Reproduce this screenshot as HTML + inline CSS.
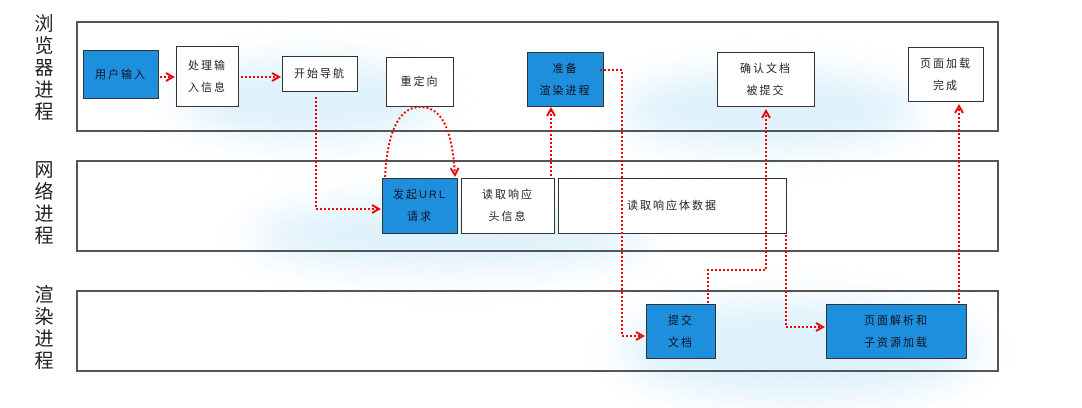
<!DOCTYPE html>
<html><head><meta charset="utf-8"><style>
html,body{margin:0;padding:0;background:#fff;}
body{width:1082px;height:408px;position:relative;overflow:hidden;font-family:"Liberation Sans","Noto Sans CJK SC",sans-serif;}
.bg{position:absolute;border-radius:50%;filter:blur(18px);background:rgba(160,215,245,0.35);}
.lane{position:absolute;border:2px solid #555;box-sizing:border-box;}
.lbl{position:absolute;font-size:19px;line-height:22px;width:22px;text-align:center;color:#222;}
.b{position:absolute;box-sizing:border-box;border:1.5px solid #333;background:#fff;font-size:11px;color:#222;display:flex;align-items:center;justify-content:center;text-align:center;line-height:22px;letter-spacing:2px;}
.blue{background:#1e8fdc;color:#112;}
svg{position:absolute;left:0;top:0;}
</style></head><body>
<div class="bg" style="left:180px;top:60px;width:260px;height:80px"></div>
<div class="bg" style="left:620px;top:70px;width:300px;height:80px"></div>
<div class="bg" style="left:620px;top:300px;width:360px;height:100px"></div>
<div class="bg" style="left:250px;top:200px;width:400px;height:70px"></div>

<div class="lbl" style="left:33px;top:14px">浏<br>览<br>器<br>进<br>程</div>
<div class="lbl" style="left:33px;top:160px">网<br>络<br>进<br>程</div>
<div class="lbl" style="left:33px;top:285px">渲<br>染<br>进<br>程</div>

<div class="lane" style="left:76px;top:21px;width:923px;height:111px"></div>
<div class="lane" style="left:76px;top:160px;width:923px;height:92px"></div>
<div class="lane" style="left:76px;top:290px;width:923px;height:82px"></div>

<div class="b blue" style="left:83px;top:50px;width:76px;height:49px">用户输入</div>
<div class="b" style="left:176px;top:46px;width:63px;height:61px">处理输<br>入信息</div>
<div class="b" style="left:282px;top:56px;width:76px;height:36px">开始导航</div>
<div class="b" style="left:386px;top:57px;width:68px;height:50px">重定向</div>
<div class="b blue" style="left:527px;top:52px;width:77px;height:55px">准备<br>渲染进程</div>
<div class="b" style="left:717px;top:52px;width:98px;height:55px">确认文档<br>被提交</div>
<div class="b" style="left:908px;top:47px;width:76px;height:55px">页面加载<br>完成</div>
<div class="b blue" style="left:382px;top:178px;width:76px;height:56px">发起URL<br>请求</div>
<div class="b" style="left:461px;top:178px;width:94px;height:56px">读取响应<br>头信息</div>
<div class="b" style="left:558px;top:178px;width:229px;height:56px">读取响应体数据</div>
<div class="b blue" style="left:646px;top:304px;width:70px;height:55px">提交<br>文档</div>
<div class="b blue" style="left:826px;top:304px;width:141px;height:55px">页面解析和<br>子资源加载</div>

<svg width="1082" height="408" viewBox="0 0 1082 408">
<defs><marker id="a" markerWidth="10" markerHeight="10" refX="8" refY="5" orient="auto" markerUnits="userSpaceOnUse"><path d="M1,1 L8,5 L1,9" fill="none" stroke="#e00" stroke-width="2"/></marker></defs>
<g fill="none" stroke="#e00" stroke-width="2" stroke-dasharray="2,2" marker-end="url(#a)">
<path d="M160,77 H173"/>
<path d="M241,77 H279"/>
<path d="M316,97 V209 H379"/>
<path d="M385,177 C388,120 405,107 420,107 C440,107 452,125 455,175"/>
<path d="M551,176 V109"/>
<path d="M600,70 H622 V336 H643"/>
<path d="M708,303 V270 H766 V111"/>
<path d="M786,235 V327 H823"/>
<path d="M959,303 V106"/>
</g>
</svg>
</body></html>
